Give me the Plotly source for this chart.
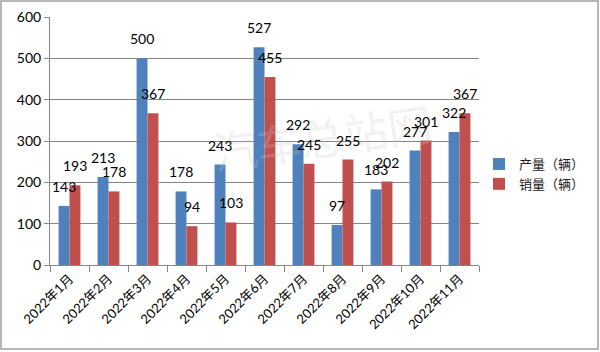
import plotly.graph_objects as go

categories = ["2022年1月", "2022年2月", "2022年3月", "2022年4月", "2022年5月", "2022年6月",
              "2022年7月", "2022年8月", "2022年9月", "2022年10月", "2022年11月"]
production = [143, 213, 500, 178, 243, 527, 292, 97, 183, 277, 322]
sales = [193, 178, 367, 94, 103, 455, 245, 255, 202, 301, 367]
series_names = ["产量（辆）", "销量（辆）"]
y_ticks = [0, 100, 200, 300, 400, 500, 600]

FONT = "Lato, Noto Sans CJK SC, sans-serif"

L, R, T, B = 50, 121, 17, 87
W, H = 600, 352
pw, ph = W - L - R, H - T - B
BARGAP = 0.44
band = pw / len(categories)
bar_w = band * (1 - BARGAP) / 2

fig = go.Figure()
fig.add_trace(go.Bar(x=categories, y=production, name=series_names[0],
                     marker=dict(color="#4F81BD", line=dict(width=0))))
fig.add_trace(go.Bar(x=categories, y=sales, name=series_names[1],
                     marker=dict(color="#C0504D", line=dict(width=0))))


def px_x(p):
    return (p - L) / pw


def px_y(p):
    return (H - B - p) / ph


annotations = [dict(text="汽车总站网", xref="paper", yref="paper",
                    x=px_x(322), y=px_y(185), showarrow=False, textangle=-8,
                    font=dict(size=44, color="rgba(200,200,200,0.25)",
                              family="Noto Sans CJK SC, sans-serif"))]
for vals, shift in ((production, -bar_w / 2), (sales, bar_w / 2)):
    for c, v in zip(categories, vals):
        annotations.append(dict(x=c, y=v, xref="x", yref="y", text=str(v), showarrow=False,
                                xshift=shift, yshift=9, yanchor="bottom", xanchor="center",
                                font=dict(size=14, color="black", family=FONT)))

fig.update_layout(
    width=W, height=H,
    margin=dict(l=L, r=R, t=T, b=B, autoexpand=False),
    paper_bgcolor="white", plot_bgcolor="white",
    barmode="group", bargap=BARGAP, bargroupgap=0,
    font=dict(family=FONT, size=14, color="black"),
    showlegend=True,
    legend=dict(x=px_x(479), y=px_y(174), xanchor="left", yanchor="middle",
                font=dict(size=13, family="Noto Sans CJK SC, sans-serif", color="#222"),
                itemwidth=30, tracegroupgap=2, bgcolor="rgba(0,0,0,0)"),
    xaxis=dict(tickangle=-45, showline=True, linecolor="#868686", linewidth=1,
               ticks="outside", ticklen=6, tickcolor="#868686", tickson="boundaries",
               tickfont=dict(size=13, family=FONT), showgrid=False, automargin=False),
    yaxis=dict(range=[0, 600], tickvals=y_ticks, showline=True, linecolor="#868686",
               linewidth=1, ticks="outside", ticklen=5, tickcolor="#868686",
               showgrid=True, gridcolor="#868686", gridwidth=1,
               tickfont=dict(size=14, family=FONT), zeroline=False, automargin=False),
    shapes=[dict(type="rect", xref="paper", yref="paper",
                 x0=px_x(1), x1=px_x(598), y0=px_y(349), y1=px_y(1),
                 line=dict(color="#A0A0A0", width=1.5), fillcolor="rgba(0,0,0,0)", layer="below")],
    annotations=annotations,
)

fig.write_html("out.html")
